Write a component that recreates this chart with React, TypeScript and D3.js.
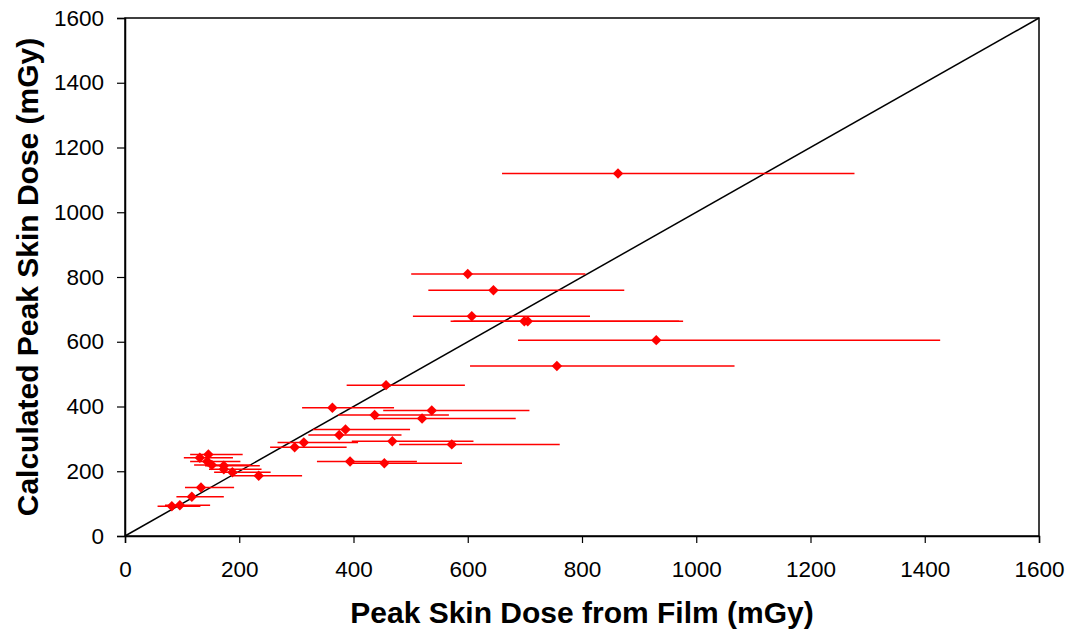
import React, { useEffect, useRef } from 'react';
import * as d3 from 'd3';

// film dose (x), calculated dose (y) and film error bar ends, all in mGy
const filmDose = [863, 600, 645, 607, 699, 705, 930, 756, 457, 363, 537, 437, 520, 386, 375, 468, 572, 313, 297, 394, 454, 146, 131, 144, 152, 173, 173, 188, 234, 133, 117, 96, 82];
const calcDose = [1120, 809, 759, 679, 663, 663, 605, 525, 466, 396, 388, 374, 363, 329, 312, 293, 283, 289, 274, 230, 225, 252, 242, 230, 219, 217, 206, 197, 186, 150, 121, 95, 92];
const errLow = [660, 501, 531, 504, 570, 575, 688, 604, 388, 310, 452, 373, 437, 329, 321, 397, 480, 267, 254, 336, 390, 114, 103, 114, 121, 140, 147, 156, 189, 105, 90, 70, 57];
const errHigh = [1277, 806, 874, 814, 970, 977, 1427, 1067, 595, 471, 708, 567, 684, 499, 484, 610, 761, 408, 388, 511, 590, 206, 189, 202, 220, 236, 239, 255, 310, 191, 173, 149, 132];
const ticks = [0, 200, 400, 600, 800, 1000, 1200, 1400, 1600];

const App: React.FC = () => {
  const ref = useRef<SVGSVGElement>(null);

  useEffect(() => {
    if (!ref.current) return;
    const width = 1075;
    const height = 637;
    const left = 125, right = 1039, top = 18, bottom = 536;

    const svg = d3.select(ref.current);
    svg.selectAll('*').remove();

    const x = d3.scaleLinear().domain([0, 1600]).range([left, right]);
    const y = d3.scaleLinear().domain([0, 1600]).range([bottom, top]);

    const font = 'Arial, "Liberation Sans", sans-serif';

    // plot frame
    svg
      .append('rect')
      .attr('x', left)
      .attr('y', top)
      .attr('width', right - left)
      .attr('height', bottom - top)
      .attr('fill', 'white')
      .attr('stroke', 'black')
      .attr('stroke-width', 1.5);

    const xAxis = svg
      .append('g')
      .attr('transform', `translate(0,${bottom})`)
      .call(d3.axisBottom(x).tickValues(ticks).tickSize(7).tickPadding(18).tickFormat(d3.format('d')));
    const yAxis = svg
      .append('g')
      .attr('transform', `translate(${left},0)`)
      .call(d3.axisLeft(y).tickValues(ticks).tickSize(8).tickPadding(13).tickFormat(d3.format('d')));

    [xAxis, yAxis].forEach((g) => {
      g.select('.domain').attr('stroke', 'black').attr('stroke-width', 1.5);
      g.selectAll('line').attr('stroke', 'black').attr('stroke-width', 1.2);
      g.selectAll('text')
        .attr('font-family', font)
        .attr('font-size', 22.5)
        .attr('fill', 'black');
    });

    // line of identity
    svg
      .append('line')
      .attr('x1', x(0))
      .attr('y1', y(0))
      .attr('x2', x(1600))
      .attr('y2', y(1600))
      .attr('stroke', 'black')
      .attr('stroke-width', 1.5);

    const pts = filmDose.map((d, i) => ({
      fx: d,
      cy: calcDose[i],
      lo: errLow[i],
      hi: errHigh[i],
    }));

    svg
      .append('g')
      .selectAll('line')
      .data(pts)
      .join('line')
      .attr('x1', (d) => x(d.lo))
      .attr('x2', (d) => x(d.hi))
      .attr('y1', (d) => y(d.cy))
      .attr('y2', (d) => y(d.cy))
      .attr('stroke', '#ff0000')
      .attr('stroke-width', 1.5);

    const diamond = (d3 as any).symbolDiamond2 || d3.symbolDiamond;
    svg
      .append('g')
      .selectAll('path')
      .data(pts)
      .join('path')
      .attr('transform', (d) => `translate(${x(d.fx)},${y(d.cy)})`)
      .attr('d', d3.symbol().type(diamond).size(70)() as string)
      .attr('fill', '#ff0000');

    svg
      .append('text')
      .attr('x', (left + right) / 2)
      .attr('y', 623)
      .attr('text-anchor', 'middle')
      .attr('font-family', font)
      .attr('font-weight', 'bold')
      .attr('font-size', 30)
      .text('Peak Skin Dose from Film (mGy)');

    svg
      .append('text')
      .attr('transform', `translate(38,${(top + bottom) / 2}) rotate(-90)`)
      .attr('text-anchor', 'middle')
      .attr('font-family', font)
      .attr('font-weight', 'bold')
      .attr('font-size', 30)
      .text('Calculated Peak Skin Dose (mGy)');

    svg.attr('width', width).attr('height', height);
  }, []);

  return (
    <div style={{ position: 'absolute', left: 0, top: 0, background: 'white' }}>
      <svg ref={ref} width={1075} height={637} />
    </div>
  );
};

export default App;
